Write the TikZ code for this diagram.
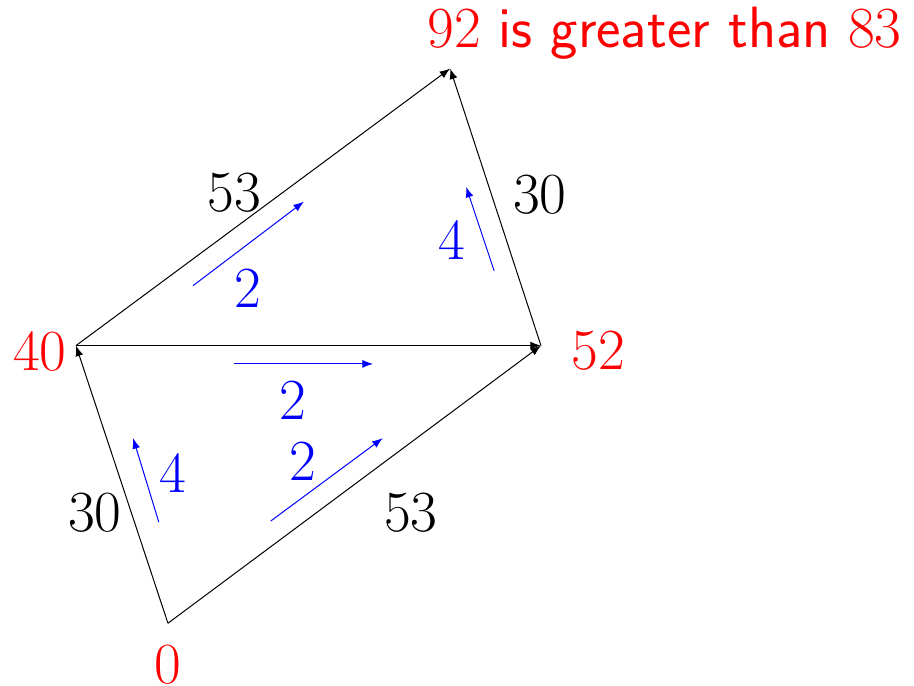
\RequirePackage{fix-cm}
\documentclass[tikz,border=0pt]{standalone}
\usetikzlibrary{arrows.meta}

\begin{document}
\begin{tikzpicture}[
  >=Latex,
  font=\fontsize{29}{35}\selectfont,
  edge/.style={->, black, line width=0.5pt},
  flow/.style={->, blue, line width=0.5pt},
  vlabel/.style={red},
  wlabel/.style={black},
  flabel/.style={blue}
]
\useasboundingbox (0,0) rectangle (16,12);

% vertices
\coordinate (v0) at (2.94,1.09);
\coordinate (v40) at (1.33,5.95);
\coordinate (v52) at (9.47,5.95);
\coordinate (v92) at (7.88,10.80);

\node[vlabel] (l0) at (2.94,0.37) {$0$};
\node[vlabel] (l40) at (0.70,5.84) {$40$};
\node[vlabel] (l52) at (10.47,5.86) {$52$};
\node[vlabel, anchor=base west] (l92) at (7.36,11.16) {$92$ \textsf{is greater than} $83$};

\draw[edge] (v0) -- (v40);
\draw[edge] (v0) -- (v52);
\draw[edge] (v40) -- (v52);
\draw[edge] (v40) -- (v92);
\draw[edge] (v52) -- (v92);

% capacities
\node[wlabel] (c1) at (4.10,8.63) {$53$};
\node[wlabel] (c2) at (9.45,8.59) {$30$};
\node[wlabel] (c3) at (1.66,3.02) {$30$};
\node[wlabel] (c4) at (7.19,3.02) {$53$};

% flows
\coordinate (f1a) at (3.38,7.00); \coordinate (f1b) at (5.32,8.47);
\coordinate (f2a) at (8.65,7.26); \coordinate (f2b) at (8.16,8.73);
\coordinate (f3a) at (4.10,5.63); \coordinate (f3b) at (6.53,5.63);
\coordinate (f4a) at (2.78,2.86); \coordinate (f4b) at (2.33,4.33);
\coordinate (f5a) at (4.74,2.88); \coordinate (f5b) at (6.70,4.33);

\draw[flow] (f1a) -- (f1b);
\draw[flow] (f2a) -- (f2b);
\draw[flow] (f3a) -- (f3b);
\draw[flow] (f4a) -- (f4b);
\draw[flow] (f5a) -- (f5b);

\node[flabel] (n1) at (4.34,6.95) {$2$};
\node[flabel] (n2) at (7.91,7.79) {$4$};
\node[flabel] (n3) at (5.13,4.98) {$2$};
\node[flabel] (n4) at (3.03,3.70) {$4$};
\node[flabel] (n5) at (5.30,3.91) {$2$};
\end{tikzpicture}
\end{document}
